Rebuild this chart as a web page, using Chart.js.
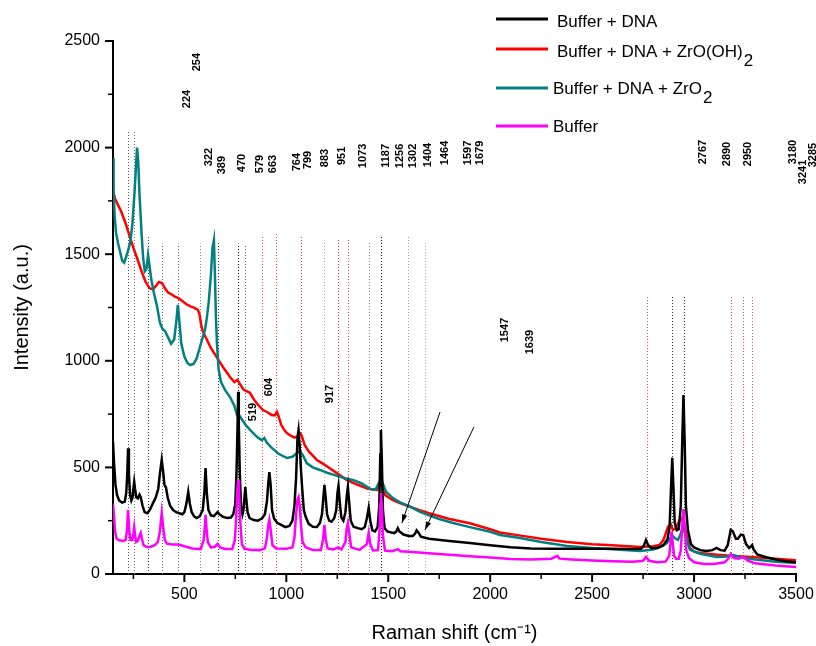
<!DOCTYPE html>
<html>
<head>
<meta charset="utf-8">
<script src="https://cdn.jsdelivr.net/npm/chart.js@4.4.0/dist/chart.umd.min.js"></script>
<style>
  html, body { margin: 0; padding: 0; background: #fff; }
  canvas { display: block; }
</style>
</head>
<body>
<canvas id="myChart" width="816" height="646"></canvas>
<script>
// Spectra: [Raman shift (cm-1), intensity (a.u.)]
const bufferDna = [
  [150,620],[155,520],[162,420],[170,370],[180,345],[195,335],[208,340],[215,380],[220,470],[224,590],[228,470],[234,370],
  [240,345],[246,360],[250,400],[254,432],[258,400],[264,360],[272,355],[280,372],[286,360],[295,320],[305,290],[318,285],
  [330,300],[345,330],[360,360],[372,400],[380,470],[389,535],[396,480],[402,420],[410,405],[418,360],[430,320],[445,300],
  [460,290],[475,285],[490,280],[500,290],[510,330],[519,385],[527,330],[536,290],[548,270],[560,262],[575,270],[590,300],
  [598,380],[604,497],[610,380],[618,300],[630,275],[645,272],[655,282],[663,290],[672,280],[690,268],[710,263],[728,265],
  [740,280],[750,330],[756,480],[761,700],[764,855],[767,700],[772,470],[778,320],[785,280],[790,300],[795,360],[799,408],
  [803,360],[810,290],[820,262],[840,253],[860,250],[880,260],[895,280],[905,340],[911,420],[917,478],[923,420],[930,300],
  [940,260],[955,240],[975,230],[995,220],[1015,225],[1030,250],[1040,320],[1048,450],[1055,640],[1060,675],[1066,600],
  [1072,488],[1078,400],[1086,300],[1095,268],[1110,235],[1130,222],[1150,221],[1165,240],[1175,280],[1182,360],[1187,418],
  [1193,360],[1200,280],[1210,250],[1222,245],[1235,262],[1245,300],[1251,380],[1256,413],[1262,340],[1270,265],[1280,250],
  [1290,290],[1297,370],[1302,408],[1308,340],[1316,250],[1330,222],[1350,215],[1370,210],[1385,220],[1395,260],[1404,310],
  [1412,250],[1422,205],[1435,200],[1448,220],[1456,320],[1461,560],[1464,675],[1468,560],[1474,300],[1482,215],[1495,200],
  [1515,195],[1530,192],[1540,200],[1547,215],[1555,200],[1575,185],[1600,178],[1620,178],[1632,190],[1639,205],[1648,195],
  [1660,175],[1700,165],[1800,155],[1900,145],[2000,135],[2100,125],[2200,120],[2300,118],[2400,118],[2500,118],[2600,118],
  [2700,117],[2740,118],[2755,135],[2764,160],[2775,135],[2790,122],[2820,122],[2850,135],[2870,165],[2880,220],[2887,400],
  [2893,545],[2899,400],[2905,240],[2915,205],[2925,210],[2935,320],[2942,620],[2948,840],[2954,620],[2960,320],[2970,205],
  [2985,140],[3000,125],[3030,112],[3060,108],[3090,112],[3110,122],[3130,112],[3150,110],[3165,135],[3180,207],[3190,200],
  [3205,165],[3215,165],[3230,185],[3241,183],[3255,140],[3270,122],[3280,130],[3285,136],[3292,115],[3310,92],[3350,80],
  [3400,68],[3450,60],[3500,55]
];

const bufferDnaZrOOH = [
  [150,1800],[160,1760],[175,1730],[190,1700],[210,1650],[233,1580],[250,1530],[268,1482],[290,1420],[310,1370],[330,1340],
  [345,1335],[360,1350],[375,1370],[390,1365],[405,1340],[420,1320],[440,1310],[455,1300],[469,1295],[490,1280],[510,1265],
  [530,1255],[550,1248],[567,1238],[575,1215],[582,1170],[590,1140],[610,1100],[630,1060],[660,1015],[690,970],[724,924],
  [745,900],[760,910],[770,895],[790,865],[810,855],[822,850],[840,820],[860,795],[886,769],[905,760],[930,745],[945,745],
  [954,760],[962,740],[975,700],[990,675],[1003,661],[1020,650],[1040,640],[1055,645],[1067,660],[1075,650],[1090,605],
  [1110,575],[1130,555],[1150,535],[1175,520],[1204,502],[1230,485],[1260,465],[1290,445],[1327,427],[1360,415],[1400,400],
  [1445,394],[1455,415],[1464,430],[1472,410],[1485,370],[1500,360],[1523,347],[1560,332],[1600,318],[1650,300],[1700,285],
  [1800,258],[1900,238],[2000,210],[2048,195],[2150,180],[2250,165],[2377,150],[2500,140],[2600,135],[2735,127],[2800,130],
  [2830,136],[2850,160],[2872,221],[2885,235],[2896,207],[2910,215],[2930,253],[2940,262],[2955,221],[2968,160],[2980,122],
  [3000,105],[3030,98],[3100,92],[3194,85],[3300,78],[3400,72],[3500,65]
];

const bufferDnaZrO2 = [
  [150,1950],[153,1800],[158,1680],[165,1600],[175,1550],[185,1510],[195,1470],[205,1460],[215,1490],[225,1520],[235,1560],
  [245,1640],[255,1780],[262,1900],[268,2000],[274,1930],[280,1780],[290,1600],[298,1480],[306,1420],[314,1430],[322,1496],
  [330,1440],[338,1380],[350,1320],[365,1260],[380,1180],[392,1150],[405,1140],[420,1110],[435,1080],[450,1100],[460,1180],
  [468,1262],[476,1180],[485,1080],[500,1020],[515,990],[528,980],[545,985],[560,1010],[575,1060],[590,1110],[601,1144],
  [610,1200],[620,1280],[630,1400],[638,1530],[645,1567],[650,1400],[655,1200],[660,1080],[668,960],[680,900],[700,862],
  [724,830],[745,790],[758,746],[766,750],[775,735],[800,700],[830,668],[860,640],[880,628],[892,638],[905,615],[930,590],
  [960,565],[990,550],[1003,544],[1030,550],[1055,570],[1067,575],[1080,560],[1100,520],[1130,500],[1165,488],[1200,475],
  [1250,460],[1300,446],[1327,441],[1370,425],[1410,400],[1425,394],[1440,400],[1455,430],[1464,450],[1475,420],[1490,385],
  [1523,356],[1560,335],[1600,320],[1656,291],[1700,275],[1750,258],[1818,239],[1900,220],[2000,198],[2048,183],[2146,169],
  [2250,150],[2377,131],[2500,122],[2600,116],[2735,108],[2800,115],[2840,130],[2867,145],[2885,170],[2896,178],[2910,165],
  [2921,160],[2935,190],[2946,221],[2958,180],[2970,140],[2980,113],[3030,95],[3112,80],[3160,82],[3194,89],[3220,80],
  [3300,68],[3400,58],[3500,52]
];

const bufferOnly = [
  [150,330],[155,270],[160,200],[168,165],[180,158],[200,155],[212,160],[218,200],[224,300],[230,200],[236,160],[245,160],
  [250,190],[254,220],[258,185],[264,150],[272,155],[280,180],[286,193],[292,165],[300,135],[315,127],[335,128],[355,135],
  [370,150],[380,200],[389,286],[396,220],[404,160],[415,142],[440,138],[470,138],[480,136],[500,130],[540,120],[580,117],
  [595,160],[601,230],[604,277],[608,220],[615,150],[630,125],[650,128],[663,141],[675,125],[700,117],[735,117],[748,160],
  [755,280],[760,400],[764,441],[768,400],[774,250],[782,140],[795,118],[830,113],[870,112],[895,120],[905,170],[911,225],
  [917,253],[923,210],[932,135],[950,120],[1000,118],[1030,125],[1040,170],[1048,280],[1055,350],[1060,361],[1066,320],
  [1072,230],[1080,150],[1095,125],[1130,113],[1170,113],[1180,160],[1187,230],[1194,160],[1203,120],[1230,115],[1256,125],
  [1270,115],[1290,150],[1296,210],[1302,239],[1308,200],[1318,125],[1360,113],[1395,140],[1404,193],[1412,140],[1425,110],
  [1450,112],[1457,200],[1461,330],[1464,380],[1468,330],[1474,180],[1484,110],[1520,107],[1547,117],[1560,107],[1600,104],
  [1700,97],[1800,90],[1900,83],[2000,77],[2100,70],[2200,68],[2300,72],[2330,85],[2340,72],[2400,68],[2500,63],[2600,60],
  [2700,57],[2750,62],[2764,80],[2780,62],[2820,55],[2860,58],[2878,85],[2884,140],[2890,200],[2896,140],[2902,85],[2912,72],
  [2925,72],[2935,110],[2942,230],[2948,305],[2954,230],[2962,110],[2975,75],[3000,55],[3050,47],[3100,47],[3150,55],
  [3170,75],[3180,94],[3195,75],[3220,72],[3241,80],[3265,62],[3300,50],[3400,40],[3500,33]
];

// axis ticks
const xTicks = [500, 1000, 1500, 2000, 2500, 3000, 3500];
const yTicks = [0, 500, 1000, 1500, 2000, 2500];

// band positions marked by dotted lines
const bandLines = [224, 254, 322, 389, 470, 579, 663, 764, 799, 883, 951, 1073, 1187, 1256, 1302, 1404, 1464, 1597, 1679,
  2767, 2890, 2950, 3180, 3241, 3285];
const bandTops = [2080, 2080, 1580, 1550, 1550, 1550, 1560, 1550, 1540, 1590, 1600, 1580, 1570, 1570, 1570, 1560, 1590, 1590, 1560,
  1300, 1300, 1300, 1300, 1300, 1300];
const bandTints = ['#555', '#777', '#333', '#666', '#666', '#888', '#333', '#111', '#666', '#f44', '#f44', '#b33', '#d99', '#c33', '#e44', '#888', '#111', '#999', '#e99',
  '#f44', '#333', '#333', '#f44', '#f44', '#f44'];

// band labels (text and where they sit, in data units)
const bandLabels = ['224', '254', '322', '389', '470', '579', '663', '764', '799', '883', '951', '1073', '1187', '1256', '1302', '1404',
  '1464', '1597', '1679', '519', '604', '917', '1547', '1639', '2767', '2890', '2950', '3180', '3241', '3285'];
const bandLabelAt = [[513,2228],[562,2401],[621,1956],[685,1918],[783,1928],[871,1923],[935,1923],[1052,1932],[1106,1942],
  [1190,1951],[1273,1961],[1376,1961],[1489,1961],[1558,1961],[1621,1961],[1695,1965],[1778,1975],[1891,1975],[1950,1975],
  [837,760],[915,877],[1214,844],[2073,1144],[2195,1088],[3044,1979],[3161,1970],[3264,1970],[3485,1979],[3534,1886],[3583,1965]];

// arrows pointing at the 1547 and 1639 bands: [fromX, fromY, toX, toY]
const arrows = [[1754, 760, 1567, 239], [1920, 689, 1680, 206]];

const seriesNames = ['Buffer + DNA', 'Buffer + DNA + ZrO(OH)', 'Buffer + DNA + ZrO', 'Buffer'];
const seriesColors = ['#000000', '#ff0000', '#008080', '#ff00ff'];

const FONT = '"Liberation Sans", Arial, Helvetica, sans-serif';

const toXY = arr => arr.map(p => ({ x: p[0], y: p[1] }));

// 점선, 라벨, 화살표, 범례를 직접 그리는 플러그인
const decorations = {
  id: 'decorations',
  beforeDatasetsDraw(chart) {
    const { ctx, chartArea } = chart;
    const xs = chart.scales.x, ys = chart.scales.y;
    ctx.save();
    ctx.lineWidth = 1;
    ctx.setLineDash([1, 2]);
    bandLines.forEach((v, i) => {
      const px = Math.round(xs.getPixelForValue(v)) + 0.5;
      ctx.strokeStyle = bandTints[i];
      ctx.beginPath();
      ctx.moveTo(px, chartArea.bottom);
      ctx.lineTo(px, ys.getPixelForValue(bandTops[i]));
      ctx.stroke();
    });
    ctx.restore();
  },
  afterDraw(chart) {
    const { ctx, chartArea } = chart;
    const xs = chart.scales.x, ys = chart.scales.y;
    ctx.save();

    // tick marks (major 500, minor 250)
    ctx.strokeStyle = '#000';
    for (let v = 250; v <= 3500; v += 250) {
      const px = xs.getPixelForValue(v);
      const major = v % 500 === 0;
      ctx.lineWidth = major ? 2 : 1.5;
      ctx.beginPath();
      ctx.moveTo(px, chartArea.bottom);
      ctx.lineTo(px, chartArea.bottom + (major ? 8 : 5));
      ctx.stroke();
    }
    for (let v = 0; v <= 2500; v += 250) {
      const py = ys.getPixelForValue(v);
      const major = v % 500 === 0;
      ctx.lineWidth = major ? 2 : 1.5;
      ctx.beginPath();
      ctx.moveTo(chartArea.left, py);
      ctx.lineTo(chartArea.left - (major ? 8 : 5), py);
      ctx.stroke();
    }

    // band labels, rotated
    ctx.fillStyle = '#000';
    ctx.font = 'bold 11px ' + FONT;
    ctx.textAlign = 'center';
    ctx.textBaseline = 'middle';
    bandLabels.forEach((t, i) => {
      const px = xs.getPixelForValue(bandLabelAt[i][0]);
      const py = ys.getPixelForValue(bandLabelAt[i][1]);
      ctx.save();
      ctx.translate(px, py);
      ctx.rotate(-Math.PI / 2);
      ctx.fillText(t, 0, 0);
      ctx.restore();
    });

    // arrows
    ctx.lineWidth = 1;
    arrows.forEach(a => {
      const x1 = xs.getPixelForValue(a[0]), y1 = ys.getPixelForValue(a[1]);
      const x2 = xs.getPixelForValue(a[2]), y2 = ys.getPixelForValue(a[3]);
      const ang = Math.atan2(y2 - y1, x2 - x1);
      ctx.beginPath();
      ctx.moveTo(x1, y1);
      ctx.lineTo(x2, y2);
      ctx.stroke();
      ctx.beginPath();
      ctx.moveTo(x2, y2);
      ctx.lineTo(x2 - 9 * Math.cos(ang - 0.3), y2 - 9 * Math.sin(ang - 0.3));
      ctx.lineTo(x2 - 9 * Math.cos(ang + 0.3), y2 - 9 * Math.sin(ang + 0.3));
      ctx.closePath();
      ctx.fill();
    });

    // legend
    const rows = [
      { y: 19, tx: 557, ty: 22, sub: null },
      { y: 49, tx: 557, ty: 52, sub: '2' },
      { y: 88, tx: 553, ty: 89, sub: '2' },
      { y: 126, tx: 553, ty: 127, sub: null }
    ];
    ctx.font = '17px ' + FONT;
    ctx.textAlign = 'left';
    ctx.textBaseline = 'middle';
    rows.forEach((r, i) => {
      ctx.strokeStyle = seriesColors[i];
      ctx.lineWidth = 3;
      ctx.beginPath();
      ctx.moveTo(496, r.y);
      ctx.lineTo(548, r.y);
      ctx.stroke();
      ctx.fillStyle = '#000';
      ctx.fillText(seriesNames[i], r.tx, r.ty);
      if (r.sub) {
        const w = ctx.measureText(seriesNames[i]).width;
        ctx.fillText(r.sub, r.tx + w + 1, r.ty + 9);
      }
    });
    ctx.restore();
  }
};

const ctx = document.getElementById('myChart').getContext('2d');

const chart = new Chart(ctx, {
  type: 'scatter',
  data: {
    datasets: [
      { label: seriesNames[0], data: toXY(bufferDna), borderColor: seriesColors[0], order: 1 },
      { label: seriesNames[1], data: toXY(bufferDnaZrOOH), borderColor: seriesColors[1], order: 3 },
      { label: seriesNames[2], data: toXY(bufferDnaZrO2), borderColor: seriesColors[2], order: 2 },
      { label: seriesNames[3], data: toXY(bufferOnly), borderColor: seriesColors[3], order: 0 }
    ]
  },
  options: {
    responsive: false,
    animation: false,
    showLine: true,
    datasets: { scatter: { showLine: true } },
    elements: {
      point: { radius: 0, hoverRadius: 0 },
      line: { borderWidth: 2.5, tension: 0, fill: false }
    },
    layout: { padding: { left: 0, top: 41, right: 20, bottom: 0 } },
    plugins: { legend: { display: false }, tooltip: { enabled: false } },
    scales: {
      x: {
        type: 'linear',
        min: 150,
        max: 3500,
        afterFit: s => { s.height = 72; s.paddingLeft = 0; s.paddingRight = 0; },
        afterBuildTicks: s => { s.ticks = xTicks.map(v => ({ value: v })); },
        grid: { display: false, drawTicks: false },
        border: { display: true, color: '#000', width: 2 },
        ticks: { color: '#000', font: { family: FONT, size: 16 }, padding: 11, maxRotation: 0,
          callback: v => String(v) },
        title: { display: true, text: 'Raman shift (cm\u207B\u00B9)', color: '#000',
          font: { family: FONT, size: 20 }, padding: { top: 0, bottom: 1 } }
      },
      y: {
        min: 0,
        max: 2500,
        afterFit: s => { s.width = 113; s.paddingTop = 0; s.paddingBottom = 0; },
        afterBuildTicks: s => { s.ticks = yTicks.map(v => ({ value: v })); },
        grid: { display: false, drawTicks: false },
        border: { display: true, color: '#000', width: 2 },
        ticks: { color: '#000', font: { family: FONT, size: 16 }, padding: 13,
          callback: v => String(v) },
        title: { display: true, text: 'Intensity (a.u.)', color: '#000',
          font: { family: FONT, size: 20 }, padding: { top: 10, bottom: 0 } }
      }
    }
  },
  plugins: [decorations]
});
</script>
</body>
</html>
